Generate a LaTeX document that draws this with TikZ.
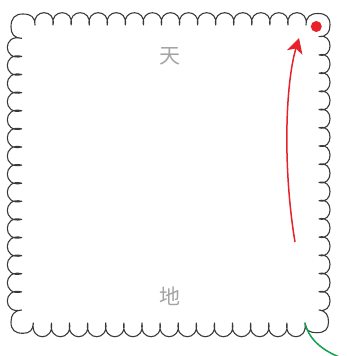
\documentclass[tikz,border=0pt]{standalone}
\usepackage{fontspec}
\newfontfamily\cjk{Noto Sans CJK SC}
\usetikzlibrary{arrows.meta}
\definecolor{outl}{HTML}{3A3A3A}
\definecolor{txtgray}{HTML}{A4A4A4}
\definecolor{myred}{HTML}{E8202A}
\definecolor{mygreen}{HTML}{14A04C}
\tikzset{
  outline/.style={draw=outl, line width=1.1pt, line join=round},
  cjklabel/.style={font=\cjk\fontsize{21}{21}\selectfont, text=txtgray, inner sep=0pt},
  redarrow/.style={draw=myred, line width=1.5pt, -{Stealth[length=15pt,width=16pt,inset=4pt]}},
  greenline/.style={draw=mygreen, line width=1.5pt}
}
\begin{document}
\begin{tikzpicture}[x=1pt,y=-1pt]
\useasboundingbox (0,0) rectangle (347,356);
% stamp outline
\draw[outline] (35,25)
  \foreach \i in {0,...,14}{ .. controls ({35+\i*18.067-3},8.6) and ({35+(\i+1)*18.067+3},8.6) .. ({35+(\i+1)*18.067},25) }
  .. controls (306,17) and (310,13.5) .. (318,13.5) .. controls (326,13.5) and (330,17) .. (330,25) .. controls (330,32) and (327,36.7) .. (319,36.7)
  \foreach \i in {0,...,14}{ .. controls (333.7,{36.7+\i*18.22-4}) and (333.7,{36.7+(\i+1)*18.22+4}) .. (319,{36.7+(\i+1)*18.22}) }
  .. controls (326,311) and (328.5,315) .. (328.5,322) .. controls (328.5,329) and (325,332.7) .. (317,332.7) .. controls (309,332.7) and (305,330) .. (305,323)
  \foreach \i in {0,...,14}{ .. controls ({305-\i*18.113+3},341.3) and ({305-(\i+1)*18.113-3},341.3) .. ({305-(\i+1)*18.113},323) }
  .. controls (33,330) and (30,333.3) .. (23,333.3) .. controls (15,333.3) and (11,330) .. (11,322) .. controls (11,315) and (14,310.5) .. (21.7,310)
  \foreach \i in {0,...,14}{ .. controls (2.5,{310-\i*18.113+5}) and (2.5,{310-(\i+1)*18.113-5}) .. (21.7,{310-(\i+1)*18.113}) }
  .. controls (14,38) and (11,34) .. (11,27) .. controls (11,18) and (15,14) .. (23,14) .. controls (31,14) and (35,17) .. (35,25) -- cycle;
% labels
\node[cjklabel] (tian) at (170,56) {天};
\node[cjklabel] (di) at (170,296) {地};
% red dot
\node[circle, fill=myred, minimum size=11pt, inner sep=0pt] (dot) at (316.3,26.5) {};
% red arrow
\coordinate (rs) at (295,242);
\coordinate (re) at (299,38);
\draw[redarrow] (rs) .. controls (283,170) and (285,85) .. (re);
% green line
\coordinate (gs) at (305,323);
\coordinate (ge) at (342,358);
\draw[greenline] (gs) .. controls (308,337) and (320,350) .. (ge);
\end{tikzpicture}
\end{document}
